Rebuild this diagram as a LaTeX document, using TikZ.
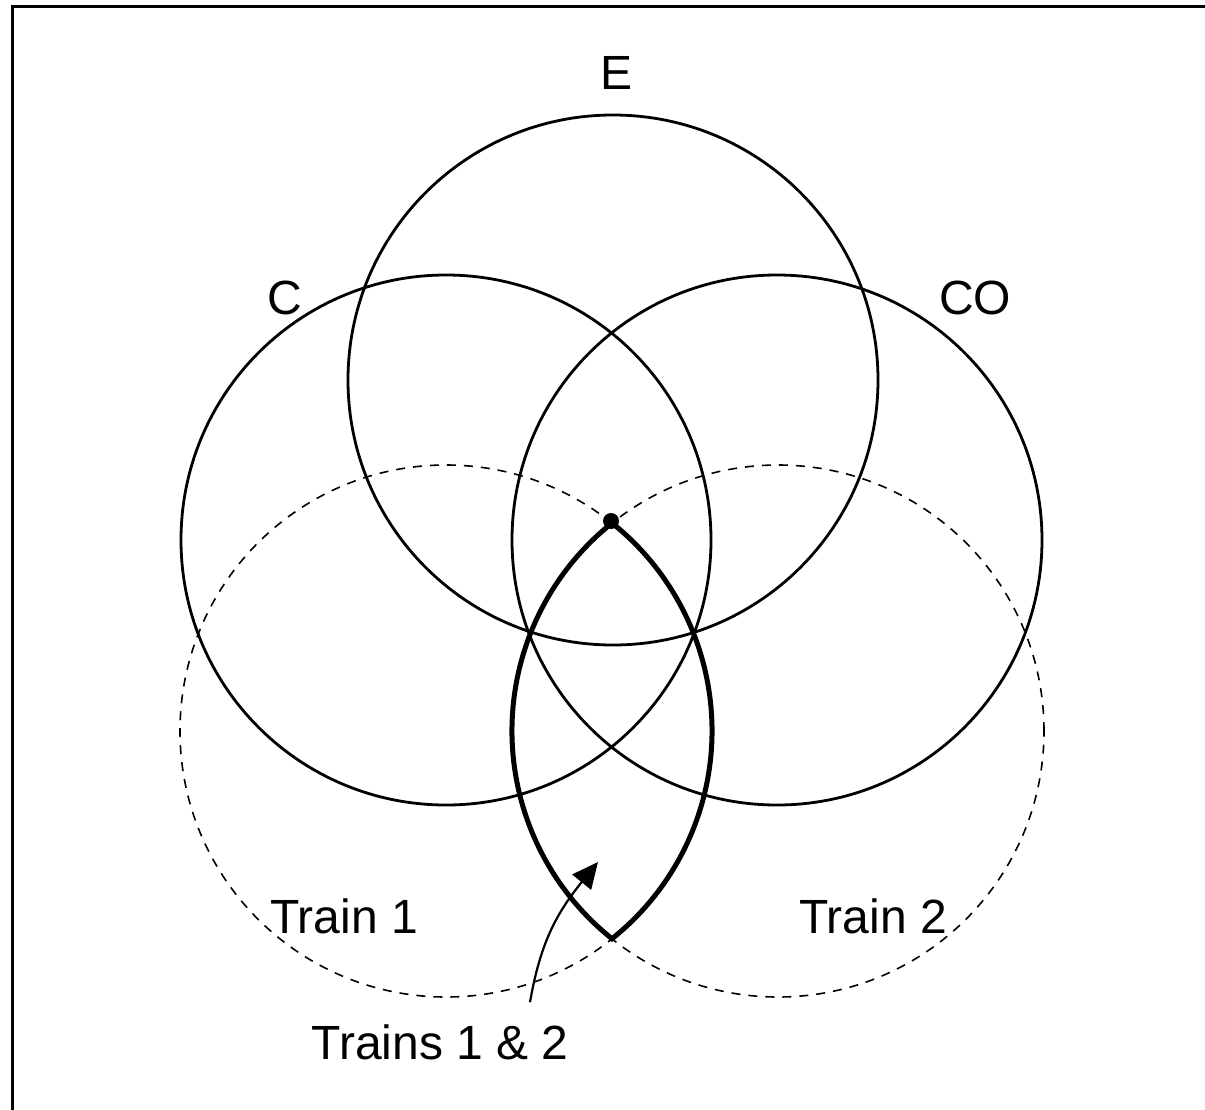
\documentclass[tikz,border=0pt]{standalone}
\usepackage{fontspec}
\setmainfont{Liberation Sans}
\usetikzlibrary{arrows.meta}
\begin{document}
\begin{tikzpicture}[x=1pt,y=-1pt,
  setcirc/.style={circle,draw,line width=2.8pt,minimum size=530pt,inner sep=0pt,outer sep=0pt},
  traincirc/.style={circle,draw,line width=1.6pt,dash pattern=on 9pt off 8pt,minimum size=532pt,inner sep=0pt,outer sep=0pt},
  lbl/.style={font=\fontsize{48}{58}\selectfont,inner sep=0pt},
  lens/.style={line width=5pt,line join=miter},
  frameline/.style={line width=3.2pt}]
\useasboundingbox (0,0) rectangle (1205,1109);
% frame
\coordinate (ftr) at (1210,6.5);
\coordinate (ftl) at (12.5,6.5);
\coordinate (fbl) at (12.5,1115);
\draw[frameline] (ftr) -- (ftl) -- (fbl);
% set circles
\node[setcirc] (E) at (613,380) {};
\node[setcirc] (C) at (446,540) {};
\node[setcirc] (CO) at (777,540) {};
% train circles
\node[traincirc] (T1) at (446,731) {};
\node[traincirc] (T2) at (778,731) {};
% lens (intersection of trains)
\coordinate (ltop) at (612,523);
\draw[lens] (ltop) arc[start angle=-128.6,end angle=-231.4,radius=266]
  arc[start angle=51.4,end angle=-51.4,radius=266] -- cycle;
\node[circle,fill,inner sep=0pt,minimum size=16pt] (dot) at (611,521) {};
% labels
\node[lbl] (lE) at (617,73) {E};
\node[lbl] (lC) at (285,298) {C};
\node[lbl] (lCO) at (975,298) {CO};
\node[lbl] (lT1) at (344,916) {Train 1};
\node[lbl] (lT2) at (873,916) {Train 2};
\node[lbl] (lT12) at (440,1042) {Trains 1 \& 2};
% arrow
\coordinate (atip) at (598,862);
\draw[line width=2.2pt,-{Triangle[length=26pt,width=24pt]}] (lT12.north) ++(90,-22) coordinate (astart)
  .. controls (540,945) and (555,915) .. (atip);
\end{tikzpicture}
\end{document}
